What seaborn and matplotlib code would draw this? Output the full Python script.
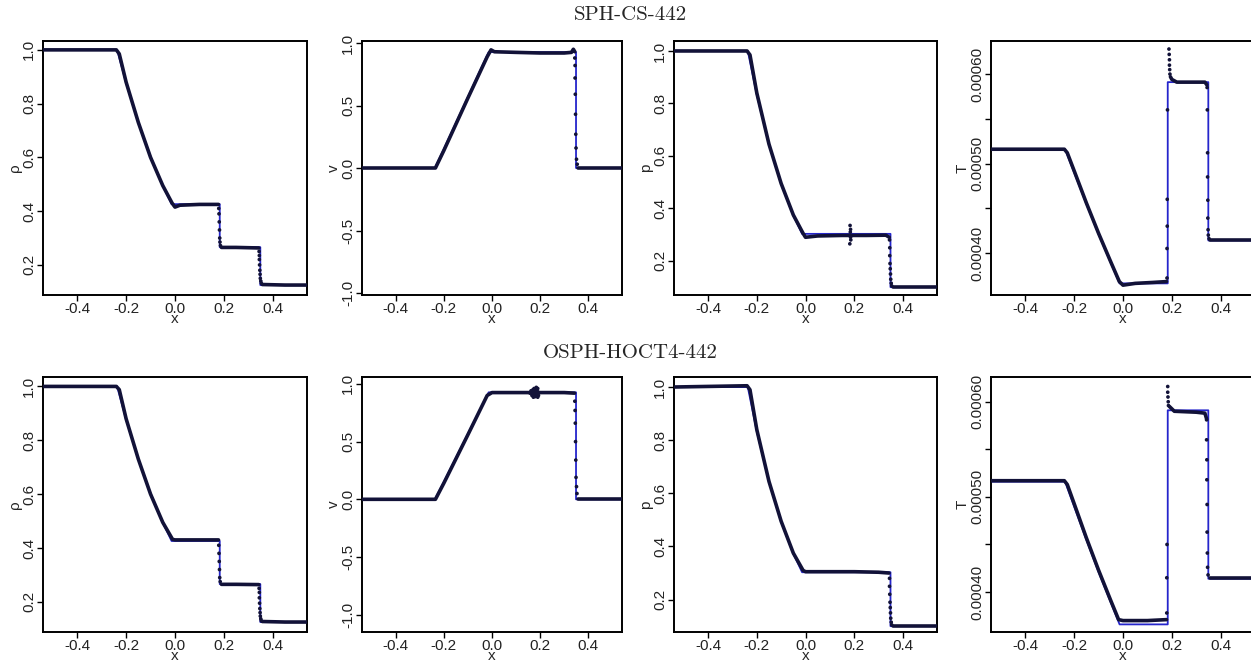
import numpy as np
import pandas as pd
import matplotlib
matplotlib.use("Agg")
import matplotlib.pyplot as plt
from matplotlib.ticker import FixedLocator, FixedFormatter
import seaborn as sns

nan = np.nan

# exact (analytic) Sod solution, knots
x_exact = [-0.56, -0.237, -0.2, -0.15, -0.1, -0.05, -0.014, 0.183, 0.183, 0.349, 0.349, 0.56]
rho_exact = [1.0, 1.0, 0.877, 0.730, 0.603, 0.494, 0.426, 0.426, 0.266, 0.266, 0.125, 0.125]
v_exact = [0.0, 0.0, 0.153, 0.361, 0.569, 0.778, 0.927, 0.927, 0.927, 0.927, 0.0, 0.0]
p_exact = [1.0, 1.0, 0.833, 0.644, 0.493, 0.373, 0.303, 0.303, 0.303, 0.303, 0.1, 0.1]
T_exact = [5.16e-4, 5.16e-4, 4.90e-4, 4.55e-4, 4.21e-4, 3.89e-4, 3.66e-4, 3.66e-4, 5.91e-4, 5.91e-4, 4.14e-4, 4.14e-4]

# ---- SPH-CS-442 particles (dense part as track, nan = gap) ----
cs_rho_x = [-0.56, -0.24, -0.228, -0.2, -0.15, -0.1, -0.05, -0.012, 0.0, 0.02, 0.1, 0.178, nan, 0.19, 0.25, 0.343, nan, 0.357, 0.45, 0.56]
cs_rho_y = [1.0, 1.0, 0.985, 0.88, 0.73, 0.60, 0.495, 0.43, 0.415, 0.422, 0.425, 0.425, nan, 0.265, 0.265, 0.263, nan, 0.127, 0.125, 0.125]
cs_rho_dx = [0.179, 0.18, 0.181, 0.182, 0.183, 0.184, 0.186, 0.344, 0.345, 0.345, 0.346, 0.347, 0.348, 0.349, 0.351, 0.353]
cs_rho_dy = [0.41, 0.39, 0.36, 0.33, 0.30, 0.285, 0.272, 0.25, 0.235, 0.22, 0.20, 0.18, 0.165, 0.15, 0.14, 0.132]

cs_v_x = [-0.56, -0.235, -0.2, -0.1, -0.02, -0.004, 0.01, 0.1, 0.2, 0.3, 0.33, 0.338, 0.344, nan, 0.358, 0.45, 0.56]
cs_v_y = [0.0, 0.0, 0.14, 0.56, 0.89, 0.945, 0.93, 0.925, 0.92, 0.92, 0.925, 0.95, 0.93, nan, 0.0, 0.0, 0.0]
cs_v_dx = [0.344, 0.345, 0.345, 0.346, 0.347, 0.348, 0.349, 0.351, 0.354]
cs_v_dy = [0.88, 0.82, 0.72, 0.59, 0.43, 0.27, 0.16, 0.07, 0.03]

cs_p_x = [-0.56, -0.24, -0.228, -0.2, -0.15, -0.1, -0.05, -0.01, 0.0, 0.05, 0.15, 0.25, 0.33, 0.344, nan, 0.358, 0.45, 0.56]
cs_p_y = [1.0, 1.0, 0.985, 0.84, 0.645, 0.495, 0.375, 0.305, 0.29, 0.295, 0.297, 0.297, 0.298, 0.29, nan, 0.1, 0.1, 0.1]
cs_p_dx = [0.183, 0.185, 0.184, 0.186, 0.182, 0.185, 0.345, 0.346, 0.346, 0.347, 0.348, 0.349, 0.35, 0.352, 0.354]
cs_p_dy = [0.335, 0.32, 0.31, 0.28, 0.265, 0.29, 0.28, 0.25, 0.22, 0.19, 0.17, 0.15, 0.13, 0.115, 0.105]

cs_T_x = [-0.56, -0.24, -0.228, -0.2, -0.15, -0.1, -0.05, -0.015, 0.0, 0.05, 0.12, 0.178, nan,
          0.194, 0.2, 0.22, 0.3, 0.335, 0.343, nan, 0.355, 0.45, 0.56]
cs_T_y = [5.16e-4, 5.16e-4, 5.12e-4, 4.92e-4, 4.56e-4, 4.22e-4, 3.90e-4, 3.68e-4, 3.64e-4, 3.66e-4, 3.67e-4, 3.68e-4, nan,
          5.97e-4, 5.94e-4, 5.91e-4, 5.91e-4, 5.91e-4, 5.88e-4, nan, 4.14e-4, 4.14e-4, 4.14e-4]
cs_T_dx = [0.18, 0.18, 0.181, 0.181, 0.182, 0.188, 0.189, 0.19, 0.19, 0.191, 0.192,
           0.344, 0.345, 0.346, 0.346, 0.347, 0.347, 0.348, 0.349, 0.352]
cs_T_dy = [3.72e-4, 4.05e-4, 4.3e-4, 4.6e-4, 5.6e-4, 6.28e-4, 6.22e-4, 6.16e-4, 6.1e-4, 6.05e-4, 6.0e-4,
           5.85e-4, 5.6e-4, 5.12e-4, 4.85e-4, 4.59e-4, 4.39e-4, 4.26e-4, 4.2e-4, 4.16e-4]

# ---- OSPH-HOCT4-442 particles ----
oc_rho_x = [-0.56, -0.24, -0.228, -0.2, -0.15, -0.1, -0.05, -0.01, 0.0, 0.1, 0.178, nan, 0.19, 0.25, 0.343, nan, 0.357, 0.45, 0.56]
oc_rho_y = [1.0, 1.0, 0.988, 0.88, 0.73, 0.60, 0.495, 0.432, 0.43, 0.43, 0.43, nan, 0.265, 0.265, 0.264, nan, 0.127, 0.125, 0.125]
oc_rho_dx = [0.179, 0.18, 0.181, 0.182, 0.183, 0.185, 0.344, 0.345, 0.345, 0.346, 0.347, 0.348, 0.349, 0.351, 0.353]
oc_rho_dy = [0.41, 0.38, 0.35, 0.32, 0.29, 0.275, 0.25, 0.235, 0.215, 0.195, 0.175, 0.16, 0.147, 0.137, 0.13]

oc_v_x = [-0.56, -0.235, -0.2, -0.1, -0.02, 0.0, 0.1, 0.2, 0.3, 0.343, nan, 0.358, 0.45, 0.56]
oc_v_y = [0.0, 0.0, 0.14, 0.56, 0.9, 0.925, 0.925, 0.925, 0.925, 0.92, nan, 0.0, 0.0, 0.0]
oc_v_dx = [0.158, 0.162, 0.166, 0.17, 0.172, 0.175, 0.178, 0.18, 0.182, 0.185, 0.188, 0.19, 0.193, 0.196,
           0.174, 0.18, 0.186, 0.168, 0.184, 0.19,
           0.344, 0.345, 0.346, 0.347, 0.348, 0.349, 0.351, 0.353]
oc_v_dy = [0.92, 0.94, 0.9, 0.95, 0.885, 0.96, 0.93, 0.89, 0.95, 0.91, 0.935, 0.96, 0.9, 0.925,
           0.925, 0.9, 0.94, 0.905, 0.97, 0.885,
           0.85, 0.77, 0.66, 0.50, 0.34, 0.19, 0.11, 0.05]

oc_p_x = [-0.56, -0.24, -0.228, -0.2, -0.15, -0.1, -0.05, -0.01, 0.0, 0.1, 0.2, 0.3, 0.343, nan, 0.358, 0.45, 0.56]
oc_p_y = [1.0, 1.005, 0.99, 0.84, 0.645, 0.495, 0.375, 0.31, 0.305, 0.305, 0.305, 0.303, 0.30, nan, 0.1, 0.1, 0.1]
oc_p_dx = [0.345, 0.345, 0.346, 0.347, 0.348, 0.349, 0.35, 0.352, 0.354]
oc_p_dy = [0.28, 0.25, 0.22, 0.19, 0.17, 0.15, 0.13, 0.115, 0.105]

oc_T_x = [-0.56, -0.24, -0.228, -0.2, -0.15, -0.1, -0.05, -0.018, 0.0, 0.1, 0.178, nan,
          0.19, 0.21, 0.3, 0.335, 0.342, nan, 0.355, 0.45, 0.56]
oc_T_y = [5.17e-4, 5.17e-4, 5.13e-4, 4.93e-4, 4.57e-4, 4.23e-4, 3.91e-4, 3.71e-4, 3.70e-4, 3.70e-4, 3.71e-4, nan,
          5.95e-4, 5.90e-4, 5.89e-4, 5.88e-4, 5.82e-4, nan, 4.15e-4, 4.15e-4, 4.15e-4]
oc_T_dx = [0.179, 0.179, 0.18, 0.183, 0.183, 0.184, 0.185, 0.186,
           0.342, 0.342, 0.343, 0.343, 0.344, 0.344, 0.345, 0.346, 0.348]
oc_T_dy = [3.78e-4, 4.15e-4, 4.5e-4, 6.16e-4, 6.1e-4, 6.05e-4, 6.0e-4, 5.96e-4,
           5.81e-4, 5.6e-4, 5.39e-4, 5.18e-4, 4.92e-4, 4.63e-4, 4.41e-4, 4.26e-4, 4.18e-4]

ylabels = ["\u03c1", "v", "p", "T"]
titles = ["SPH-CS-442", "OSPH-HOCT4-442"]
exact = [rho_exact, v_exact, p_exact, T_exact]
rows = [
    [(cs_rho_x, cs_rho_y, cs_rho_dx, cs_rho_dy), (cs_v_x, cs_v_y, cs_v_dx, cs_v_dy),
     (cs_p_x, cs_p_y, cs_p_dx, cs_p_dy), (cs_T_x, cs_T_y, cs_T_dx, cs_T_dy)],
    [(oc_rho_x, oc_rho_y, oc_rho_dx, oc_rho_dy), (oc_v_x, oc_v_y, oc_v_dx, oc_v_dy),
     (oc_p_x, oc_p_y, oc_p_dx, oc_p_dy), (oc_T_x, oc_T_y, oc_T_dx, oc_T_dy)],
]
ylims = [
    [(0.088, 1.033), (-1.016, 1.016), (0.07, 1.038), (0.000353, 0.000637)],
    [(0.088, 1.035), (-1.15, 1.06), (0.078, 1.038), (0.000358, 0.000626)],
]

sns.set_theme(style="ticks")
plt.rcParams["font.family"] = ["Liberation Sans", "DejaVu Sans"]
plt.rcParams["axes.unicode_minus"] = False

W, H = 1251, 662
fig = plt.figure(figsize=(W / 100, H / 100), dpi=100)

# axes boxes in pixels: left, width ; row top, bottom
col_left = [43, 362, 674, 991]
col_w = [264, 260, 263, 264]
row_tb = [(41, 295), (377, 632)]
title_y = [15, 353]

blue = "#2525cc"
dark = "#121238"

for r in range(2):
    top, bot = row_tb[r]
    fig.text(0.504, 1 - title_y[r] / H, titles[r], ha="center", va="center",
             fontsize=15, family="cmr10")
    for c in range(4):
        ax = fig.add_axes([col_left[c] / W, 1 - bot / H, col_w[c] / W, (bot - top) / H])
        tx, ty, dx, dy = rows[r][c]
        sns.lineplot(x=x_exact, y=exact[c], sort=False, estimator=None, color=blue,
                     lw=1.3, ax=ax, zorder=2)
        trk = pd.DataFrame({"x": tx, "y": ty})
        trk["seg"] = trk["x"].isna().cumsum()
        trk = trk.dropna()
        sns.lineplot(data=trk, x="x", y="y", units="seg", estimator=None, sort=False,
                     color=dark, lw=2.6, ax=ax, zorder=3)
        sns.scatterplot(x=dx, y=dy, color=dark, s=7, edgecolor="none", ax=ax, zorder=4)

        ax.set_xlim(-0.54, 0.54)
        ax.set_ylim(*ylims[r][c])
        ax.xaxis.set_major_locator(FixedLocator([-0.4, -0.2, 0.0, 0.2, 0.4]))
        ax.xaxis.set_major_formatter(FixedFormatter(["-0.4", "-0.2", "0.0", "0.2", "0.4"]))
        if c == 0:
            yt = [0.2, 0.4, 0.6, 0.8, 1.0]
            yl = ["0.2", "0.4", "0.6", "0.8", "1.0"]
        elif c == 1:
            yt = [-1.0, -0.5, 0.0, 0.5, 1.0]
            yl = ["-1.0", "-0.5", "0.0", "0.5", "1.0"]
        elif c == 2:
            yt = [0.2, 0.4, 0.6, 0.8, 1.0]
            yl = ["0.2", "0.4", "0.6", "0.8", "1.0"]
        else:
            yt = [0.0004, 0.00045, 0.0005, 0.00055, 0.0006]
            yl = ["0.00040", "", "0.00050", "", "0.00060"]
        ax.yaxis.set_major_locator(FixedLocator(yt))
        ax.yaxis.set_major_formatter(FixedFormatter(yl))
        ax.tick_params(axis="both", direction="out", length=4, width=1, color="black",
                       labelsize=11, pad=1, labelcolor="#222222")
        ax.tick_params(axis="y", labelrotation=90)
        for lab in ax.get_yticklabels():
            lab.set_va("center")
        for s in ax.spines.values():
            s.set_visible(True)
            s.set_color("black")
            s.set_linewidth(1.4)
        ax.set_xlabel("x", fontsize=11, labelpad=-3)
        ax.set_ylabel(ylabels[c], fontsize=11, labelpad=0)
        ax.grid(False)

fig.savefig("out.png", dpi=100)
